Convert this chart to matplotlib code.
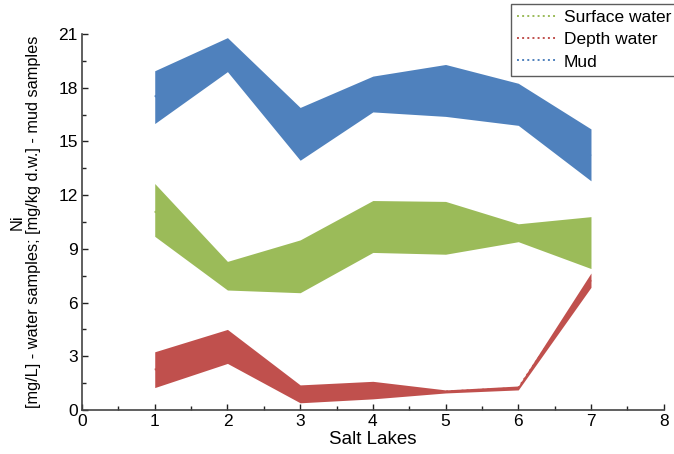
import matplotlib.pyplot as plt
from matplotlib.ticker import MultipleLocator

plt.rcParams['font.family'] = ['Liberation Sans', 'DejaVu Sans']

lakes = [1, 2, 3, 4, 5, 6, 7]

# Surface water (mg/L)
surface_low = [9.7, 6.7, 6.55, 8.8, 8.7, 9.4, 7.9]
surface_high = [12.65, 8.3, 9.5, 11.7, 11.65, 10.4, 10.8]
surface_mean = [11.1, 7.5, 8.0, 10.25, 10.2, 9.9, 9.35]

# Depth water (mg/L)
depth_low = [1.25, 2.6, 0.4, 0.62, 0.95, 1.12, 6.85]
depth_high = [3.25, 4.5, 1.4, 1.6, 1.12, 1.34, 7.65]
depth_mean = [2.25, 3.55, 0.9, 1.1, 1.03, 1.23, 7.25]

# Mud (mg/kg d.w.)
mud_low = [16.0, 18.9, 13.95, 16.65, 16.4, 15.9, 12.8]
mud_high = [18.95, 20.8, 16.9, 18.65, 19.3, 18.25, 15.7]
mud_mean = [17.5, 19.85, 15.4, 17.65, 17.85, 17.1, 14.2]

series = [
    ("Surface water", surface_low, surface_high, surface_mean, "#9BBB59"),
    ("Depth water", depth_low, depth_high, depth_mean, "#C0504D"),
    ("Mud", mud_low, mud_high, mud_mean, "#4F81BD"),
]

fig = plt.figure(figsize=(6.74, 4.54), dpi=100)
ax = fig.add_axes([0.1217, 0.097, 0.863, 0.828])

for name, low, high, mean, color in series:
    ax.plot(lakes, mean, color=color, linestyle=':', linewidth=1.4,
            label=name, zorder=1)
    ax.fill_between(lakes, low, high, color=color, linewidth=0, zorder=2)

ax.set_xlim(0, 8)
ax.set_ylim(0, 21)
ax.xaxis.set_major_locator(MultipleLocator(1))
ax.xaxis.set_minor_locator(MultipleLocator(0.5))
ax.yaxis.set_major_locator(MultipleLocator(3))
ax.yaxis.set_minor_locator(MultipleLocator(1.5))
ax.tick_params(which='both', direction='in', labelsize=12.5, width=1, color='#222222')
ax.tick_params(which='major', length=4, pad=3)
ax.tick_params(which='minor', length=3)

for side in ('top', 'right'):
    ax.spines[side].set_visible(False)
for side in ('left', 'bottom'):
    ax.spines[side].set_color('#444444')
    ax.spines[side].set_linewidth(1.2)

ax.set_xlabel("Salt Lakes", fontsize=13.5, labelpad=1)
ax.set_ylabel("Ni\n[mg/L] - water samples; [mg/kg d.w.] - mud samples",
              fontsize=11.7, linespacing=1.1, va='center')
ax.yaxis.set_label_coords(-0.098, 0.5)

leg = ax.legend(loc='upper right', bbox_to_anchor=(1.005, 0.991),
                bbox_transform=fig.transFigure, fontsize=12.5,
                frameon=True, fancybox=False, borderpad=0.35, labelspacing=0.4,
                handlelength=2.3, handletextpad=0.4, borderaxespad=0)
leg.get_frame().set_edgecolor('#333333')
leg.get_frame().set_linewidth(1.0)

fig.savefig("out.png", dpi=100)
